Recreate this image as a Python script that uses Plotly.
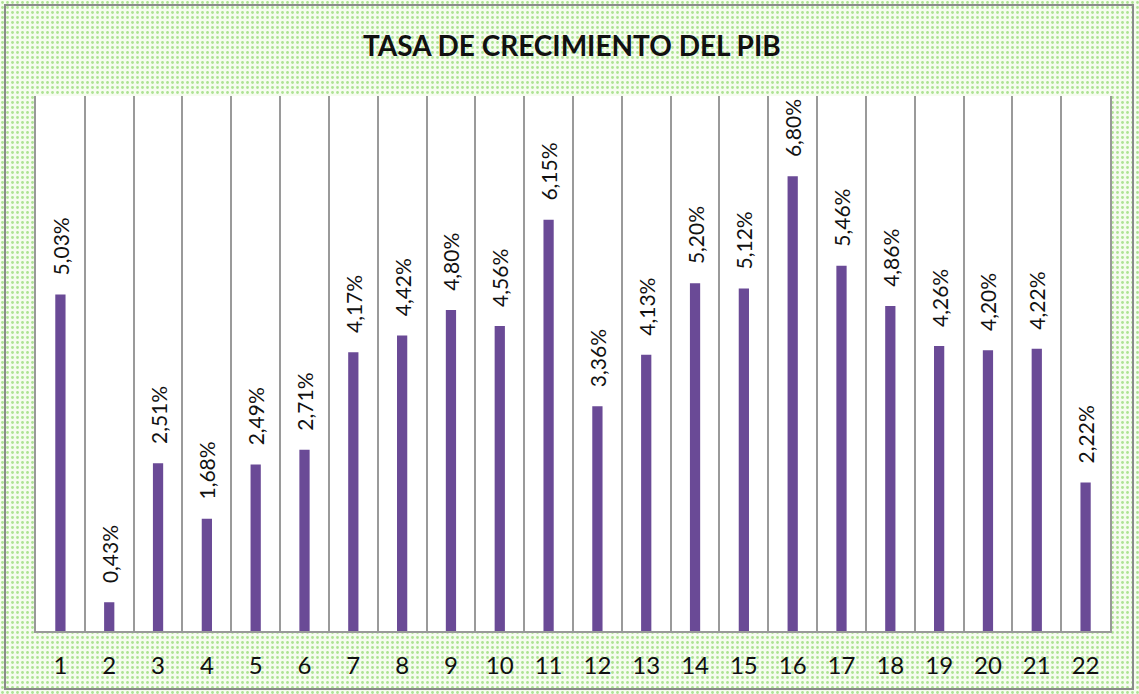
import base64
import plotly.graph_objects as go

categories = [str(i) for i in range(1, 23)]
growth = [5.03, 0.43, 2.51, 1.68, 2.49, 2.71, 4.17, 4.42, 4.80, 4.56, 6.15,
          3.36, 4.13, 5.20, 5.12, 6.80, 5.46, 4.86, 4.26, 4.20, 4.22, 2.22]
labels = ["\u00a0\u00a0\u00a0" + f"{v:.2f}%".replace(".", ",") for v in growth]
title = "TASA DE CRECIMIENTO DEL PIB"

x = list(range(1, len(categories) + 1))

svg = ('<svg xmlns="http://www.w3.org/2000/svg" width="1139" height="694">'
       '<defs><pattern id="p" width="5" height="5" patternUnits="userSpaceOnUse">'
       '<rect width="5" height="5" fill="#f6fcf0"/>'
       '<circle cx="2.5" cy="2.5" r="1.4" fill="#aee394"/></pattern></defs>'
       '<rect width="1139" height="694" fill="url(#p)"/></svg>')
uri = "data:image/svg+xml;base64," + base64.b64encode(svg.encode()).decode()

fig = go.Figure()
fig.add_trace(go.Bar(
    x=x, y=growth, text=labels, textposition="outside", textangle=-90,
    texttemplate="%{text}", cliponaxis=False, constraintext="none",
    textfont=dict(family="Lato, Calibri, sans-serif", size=21, color="#111"),
    marker=dict(color="#6a4a96", line=dict(width=0)),
    width=0.21, hoverinfo="skip",
))

fig.update_layout(
    width=1139, height=694,
    margin=dict(l=36, r=29, t=96, b=63),
    paper_bgcolor="#eef8e6", plot_bgcolor="white",
    showlegend=False,
    title=dict(text=f"<b>{title}</b>", x=0.502, xanchor="center", y=0.934, yanchor="middle",
               font=dict(family="Lato, Calibri, sans-serif", size=28, color="#111")),
    images=[dict(source=uri, xref="paper", yref="paper", x=-36/1074, y=1 + 96/535,
                 sizex=1139/1074, sizey=694/535, xanchor="left", yanchor="top",
                 sizing="stretch", layer="below")],
    shapes=[
        dict(type="rect", xref="x", yref="y", x0=0.5, x1=22.5, y0=0, y1=8,
             fillcolor="white", line=dict(width=0), layer="below"),
        dict(type="rect", xref="paper", yref="paper", x0=-31/1074, x1=1 + 23/1074,
             y0=-58/535, y1=1 + 91/535, line=dict(color="#8a8a8a", width=2),
             fillcolor="rgba(0,0,0,0)"),
    ],
    bargap=0.8,
)
fig.update_xaxes(
    range=[0.5, 22.5], tickmode="array", tickvals=x, ticktext=categories,
    showgrid=False, ticks="", showline=True, linecolor="#999", linewidth=2,
    ticklabelstandoff=12,
    tickfont=dict(family="Lato, Calibri, sans-serif", size=24, color="#111"),
    minor=dict(tickmode="linear", tick0=0.5, dtick=1, showgrid=True,
               gridcolor="#9a9a9a", gridwidth=2),
    zeroline=False,
)
fig.update_yaxes(
    range=[0, 8], showticklabels=False, showgrid=False, ticks="",
    showline=True, mirror=True, linecolor="#999", linewidth=2, zeroline=False,
)

fig.write_html("out.html", config={"displayModeBar": False},
               post_script="document.body.style.margin='0';")
